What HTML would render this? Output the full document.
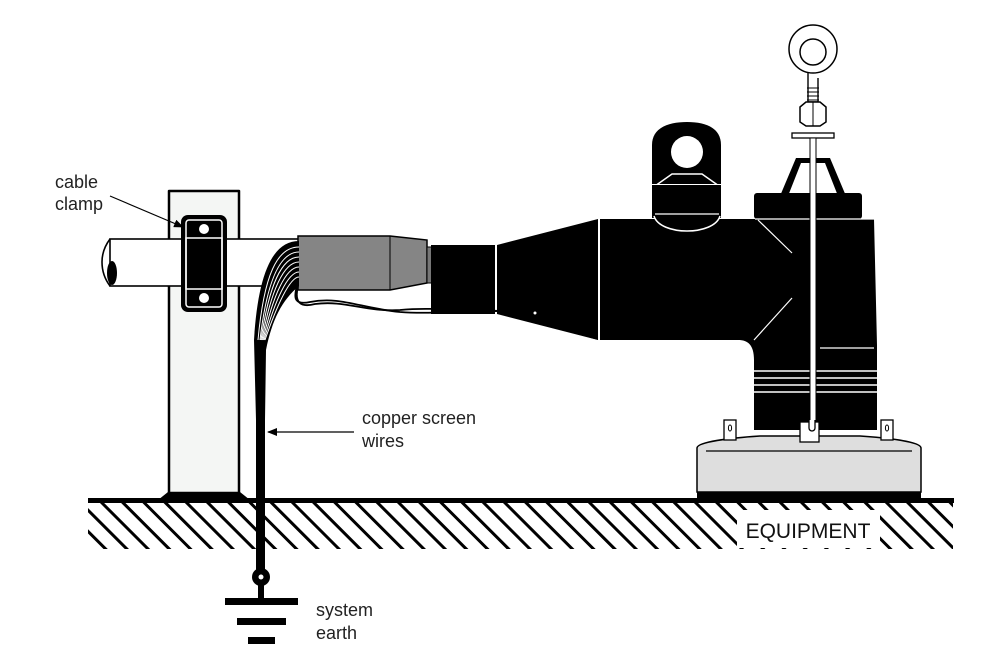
<!DOCTYPE html>
<html><head><meta charset="utf-8"><style>
html,body{margin:0;padding:0;background:#fff}
svg{display:block}
text{font-family:"Liberation Sans",sans-serif;fill:#222}
</style></head><body>
<svg width="1006" height="655" viewBox="0 0 1006 655" xmlns="http://www.w3.org/2000/svg">
<defs>
<pattern id="h" patternUnits="userSpaceOnUse" width="15" height="15" patternTransform="rotate(-45)">
<rect x="0" y="0" width="3" height="15" fill="#000"/>
</pattern>
<marker id="ar" markerWidth="10" markerHeight="8" refX="9" refY="4" orient="auto" markerUnits="userSpaceOnUse"><path d="M0,0 L10,4 L0,8 z" fill="#000"/></marker>
</defs>
<!-- ground hatch -->
<rect x="88" y="503" width="865" height="46" fill="url(#h)"/>
<rect x="737" y="510" width="143" height="38" fill="#fff"/>
<rect x="88" y="498" width="866" height="5" fill="#000"/>
<text x="808" y="538" font-size="21" text-anchor="middle" style="fill:#111">EQUIPMENT</text>

<!-- post -->
<path d="M169,191 h70 v302 h-70 z" fill="#f4f6f4" stroke="#000" stroke-width="2.5" stroke-linejoin="round"/>
<path d="M158,500 L168,492 h72 l10,8 z" fill="#000"/>
<!-- cable pipe -->
<rect x="110" y="239" width="190" height="47" fill="#fff" stroke="#000" stroke-width="1.6"/>
<path d="M110,239 c-6,8 -8,16 -8,23 c0,8 2,16 8,24" fill="none" stroke="#000" stroke-width="1.6"/>
<ellipse cx="112" cy="273" rx="5" ry="12" fill="#000"/>
<!-- clamp -->
<rect x="181" y="215" width="46" height="97" rx="7" fill="#000"/>
<rect x="186" y="220" width="36" height="87" rx="3" fill="none" stroke="#fff" stroke-width="1.5"/>
<rect x="186" y="238" width="36" height="51" fill="none" stroke="#fff" stroke-width="1.5"/>
<circle cx="204" cy="229" r="5" fill="#fff"/>
<circle cx="204" cy="298" r="5" fill="#fff"/>
<!-- grey sleeve -->
<path d="M298,236 h92 l37,4 v43 l-37,7 h-92 z" fill="#858585" stroke="#000" stroke-width="1.5"/>
<line x1="390" y1="236" x2="390" y2="290" stroke="#000" stroke-width="1"/>
<rect x="427" y="247" width="5" height="36" fill="#777" stroke="#000"/>
<!-- screen wires fan -->
<path d="M299,241 C272,241 258,275 254,340 L256,420 L265,420 L266,350 C272,320 282,300 299,286 z" fill="#000"/>
<g fill="none" stroke="#fff" stroke-width="1">
<path d="M299,247 C277,247 264,275 258,340"/>
<path d="M299,252 C280,252 267,280 260,340"/>
<path d="M299,257 C282,257 269,285 261,340"/>
<path d="M299,262 C284,262 271,290 262,340"/>
<path d="M299,267 C286,267 273,295 263,340"/>
<path d="M299,272 C288,272 275,300 264,340"/>
<path d="M299,277 C290,277 277,305 265,340"/>
</g>
<g fill="none" stroke="#000" stroke-width="1.8">
<path d="M298,283 C292,300 296,305 310,302 C340,296 360,308 400,312 C440,315 480,308 525,312"/>
<path d="M298,286 C294,302 300,308 315,304 C345,300 365,312 400,310 C440,306 480,314 525,310"/>
</g>
<rect x="256" y="380" width="9" height="192" fill="#000"/>
<circle cx="261" cy="577" r="9" fill="#000"/>
<circle cx="261" cy="577" r="2.5" fill="#fff"/>
<rect x="258" y="580" width="6" height="20" fill="#000"/>
<rect x="225" y="598" width="73" height="7" fill="#000"/>
<rect x="237" y="618" width="49" height="7" fill="#000"/>
<rect x="248" y="637" width="27" height="7" fill="#000"/>
<text x="316" y="616" font-size="18">system</text>
<text x="316" y="639" font-size="18">earth</text>

<!-- black sleeve and cone -->
<rect x="431" y="245" width="64" height="69" fill="#000"/>
<path d="M497,245 L598,219 L598,340 L497,314 z" fill="#000"/>
<path d="M525,309 L598,330 L598,340 L530,320 C522,320 520,312 525,309 z" fill="#000"/>
<circle cx="535" cy="313" r="1.5" fill="#fff"/>
<!-- elbow body -->
<path d="M600,219 H874 L877,345 V430 H754 V360 C754,345 748,340 738,340 H600 z" fill="#000"/>
<line x1="758" y1="220" x2="792" y2="253" stroke="#fff" stroke-width="1.2"/>
<line x1="754" y1="340" x2="792" y2="298" stroke="#fff" stroke-width="1.2"/>
<line x1="820" y1="348" x2="874" y2="348" stroke="#fff" stroke-width="1.2"/>
<g stroke="#fff" stroke-width="1.6">
<line x1="748" y1="371" x2="878" y2="371"/>
<line x1="748" y1="378" x2="878" y2="378"/>
<line x1="748" y1="385" x2="878" y2="385"/>
<line x1="748" y1="392" x2="878" y2="392"/>
</g>
<!-- ear -->
<path d="M652,184 V145 C652,128 668,122 687,122 C706,122 721,128 721,145 V184 z" fill="#000"/>
<circle cx="687" cy="152" r="16" fill="#fff"/>
<path d="M655,186 L672,174 H702 L719,186" fill="none" stroke="#fff" stroke-width="1.5"/>
<rect x="652" y="185" width="69" height="33" fill="#000"/>
<path d="M654,216 C660,236 714,236 720,216" fill="#000" stroke="#fff" stroke-width="1.5"/>
<line x1="655" y1="214" x2="719" y2="214" stroke="#fff" stroke-width="1.2"/>
<!-- top bracket -->
<rect x="754" y="193" width="108" height="26" rx="3" fill="#000"/>
<path d="M780,196 L796,158 H830 L846,196 H838 L825,163 H801 L788,196 z" fill="#000"/>
<line x1="755" y1="219" x2="874" y2="219" stroke="#fff" stroke-width="1.2"/>
<!-- eye bolt -->
<circle cx="813" cy="49" r="24" fill="#fff" stroke="#000" stroke-width="1.5"/>
<circle cx="813" cy="52" r="13" fill="#fff" stroke="#000" stroke-width="1.5"/>
<path d="M808,73 V102 h10 V78" fill="#fff" stroke="#000" stroke-width="1.4"/>
<g stroke="#000" stroke-width="1"><line x1="807" y1="88" x2="819" y2="88"/><line x1="807" y1="92" x2="819" y2="92"/><line x1="807" y1="96" x2="819" y2="96"/><line x1="807" y1="100" x2="819" y2="100"/></g>
<path d="M800,107 L806,102 H820 L826,107 V122 L820,126 H806 L800,122 z" fill="#fff" stroke="#000" stroke-width="1.5"/>
<line x1="813" y1="102" x2="813" y2="126" stroke="#000"/>
<rect x="792" y="133" width="42" height="5" fill="#fff" stroke="#000" stroke-width="1.3"/>
<rect x="810" y="138" width="6" height="292" fill="#fff" stroke="#000" stroke-width="1"/>
<!-- base -->
<path d="M697,448 C697,442 730,438 760,436 H860 C890,438 921,442 921,448 V492 H697 z" fill="#dedede" stroke="#000" stroke-width="1.5"/>
<line x1="706" y1="451" x2="912" y2="451" stroke="#000" stroke-width="1.2"/>
<rect x="697" y="492" width="224" height="8" fill="#000"/>
<rect x="724" y="420" width="12" height="20" fill="#fff" stroke="#000" stroke-width="1.3"/>
<ellipse cx="730" cy="428" rx="1.6" ry="3" fill="none" stroke="#000"/>
<rect x="881" y="420" width="12" height="20" fill="#fff" stroke="#000" stroke-width="1.3"/>
<ellipse cx="887" cy="428" rx="1.6" ry="3" fill="none" stroke="#000"/>
<rect x="800" y="422" width="19" height="20" fill="#fff" stroke="#000" stroke-width="1.3"/>
<path d="M809,420 v8 a3,3 0 0 0 6,0 v-8" fill="#fff" stroke="#000" stroke-width="1.3"/>
<!-- labels -->
<text x="55" y="188" font-size="18">cable</text>
<text x="55" y="210" font-size="18">clamp</text>
<line x1="110" y1="196" x2="183" y2="227" stroke="#000" stroke-width="1.2" marker-end="url(#ar)"/>
<text x="362" y="424" font-size="18">copper screen</text>
<text x="362" y="447" font-size="18">wires</text>
<line x1="354" y1="432" x2="268" y2="432" stroke="#000" stroke-width="1.2" marker-end="url(#ar)"/>
</svg>
</body></html>
